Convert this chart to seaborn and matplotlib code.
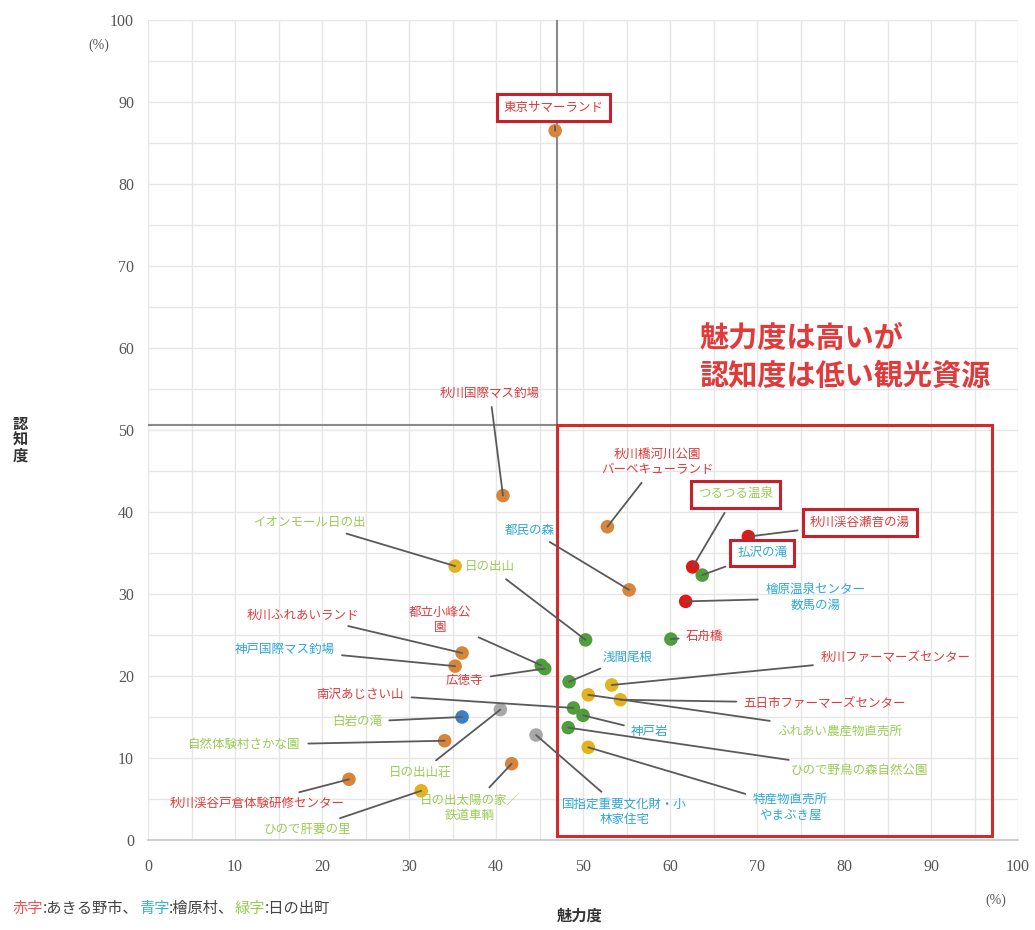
import matplotlib
matplotlib.use("Agg")
import matplotlib.pyplot as plt
import seaborn as sns
import pandas as pd
from matplotlib.patches import Rectangle
from matplotlib.ticker import MultipleLocator

sns.set_theme(style="white")
plt.rcParams['font.family'] = ['Noto Sans CJK JP', 'DejaVu Sans']

# ---------------- data ----------------
names = [
    "東京サマーランド", "秋川国際マス釣場", "イオンモール日の出", "日の出山", "都民の森",
    "秋川橋河川公園\nバーベキューランド", "つるつる温泉", "秋川渓谷瀬音の湯", "払沢の滝",
    "檜原温泉センター\n数馬の湯", "石舟橋", "浅間尾根", "秋川ファーマーズセンター",
    "五日市ファーマーズセンター", "ふれあい農産物直売所", "南沢あじさい山", "神戸岩",
    "ひので野鳥の森自然公園", "特産物直売所\nやまぶき屋", "国指定重要文化財・小\n林家住宅",
    "都立小峰公\n園", "広徳寺", "秋川ふれあいランド", "神戸国際マス釣場", "白岩の滝",
    "自然体験村さかな園", "日の出山荘", "日の出太陽の家／\n鉄道車輌",
    "秋川渓谷戸倉体験研修センター", "ひので肝要の里",
]
attract = [46.8, 40.8, 35.3, 50.3, 55.3, 52.8, 62.6, 69.0, 63.7, 61.8, 60.1, 48.4, 53.3,
           54.3, 50.6, 48.9, 50.0, 48.3, 50.6, 44.6, 45.2, 45.6, 36.1, 35.3, 36.1, 34.1,
           40.5, 41.8, 23.1, 31.4]
aware = [86.5, 42.0, 33.4, 24.4, 30.5, 38.2, 33.3, 37.0, 32.3, 29.1, 24.5, 19.3, 18.9,
         17.1, 17.7, 16.1, 15.2, 13.7, 11.3, 12.8, 21.3, 20.9, 22.8, 21.2, 15.0, 12.1,
         15.9, 9.3, 7.4, 6.0]
kind = ["leisure", "leisure", "shop", "nature", "leisure", "leisure", "onsen", "onsen",
        "nature", "onsen", "nature", "nature", "shop", "shop", "shop", "nature", "nature",
        "nature", "shop", "culture", "nature", "nature", "leisure", "leisure", "water",
        "leisure", "culture", "leisure", "leisure", "shop"]
town = ["A", "A", "H", "H", "B", "A", "H", "A", "B", "B", "A", "B", "A", "A", "H", "A", "B",
        "H", "B", "B", "A", "A", "A", "B", "H", "H", "H", "H", "A", "H"]
boxed = ["東京サマーランド", "つるつる温泉", "秋川渓谷瀬音の湯", "払沢の滝"]
mean_attract = 47.0
mean_aware = 50.6

# ---------------- layout (label positions) ----------------
label_pos = [
    (46.6, 89.3), (39.3, 54.5), (18.6, 38.7), (39.3, 33.3), (43.9, 37.8),
    (58.6, 46.1), (67.5, 42.1), (81.8, 38.7), (70.6, 35.0),
    (76.7, 29.5), (64.0, 24.8), (55.1, 22.3), (85.9, 22.3),
    (77.8, 16.7), (79.5, 13.3), (24.4, 17.8), (57.7, 13.2),
    (81.8, 8.5), (73.8, 4.0), (54.8, 3.4),
    (33.6, 26.8), (36.4, 19.5), (17.8, 27.4), (15.7, 23.2), (24.0, 14.4),
    (11.1, 11.6), (31.3, 8.2), (37.0, 3.9),
    (12.6, 4.5), (18.3, 1.3),
]

point_pal = {"leisure": "#d8843a", "onsen": "#e01818", "nature": "#4f9d3c",
             "shop": "#e3b21f", "water": "#3d7fc1", "culture": "#a8a8a8"}
text_pal = {"A": "#e03a3a", "B": "#2ea7d6", "H": "#9acb55"}

df = pd.DataFrame({"name": names, "attract": attract, "aware": aware,
                   "kind": kind, "town": town})

fig = plt.figure(figsize=(10.35, 9.3), dpi=100)
ax = fig.add_axes([0.143, 0.0968, 0.8406, 0.8817])

ax.set_xlim(0, 100)
ax.set_ylim(0, 100)
ax.xaxis.set_major_locator(MultipleLocator(10))
ax.yaxis.set_major_locator(MultipleLocator(10))
ax.xaxis.set_minor_locator(MultipleLocator(5))
ax.yaxis.set_minor_locator(MultipleLocator(5))
ax.grid(which="both", color="#e6e6e6", lw=1.0)
ax.set_axisbelow(True)
for s in ["top", "right", "left"]:
    ax.spines[s].set_visible(False)
ax.spines["bottom"].set_color("#c8c8c8")
ax.tick_params(which="both", length=0, colors="#555555", labelsize=11.5)
ax.tick_params(axis="x", pad=14)
ax.tick_params(axis="y", pad=10)
for lab in ax.get_xticklabels() + ax.get_yticklabels():
    lab.set_fontfamily("Liberation Serif")

# mean lines
ax.plot([mean_attract, mean_attract], [mean_aware, 100], color="#8a8a8a", lw=1.5, zorder=2)
ax.plot([0, mean_attract], [mean_aware, mean_aware], color="#8a8a8a", lw=1.5, zorder=2)

# highlight rectangle
ax.add_patch(Rectangle((mean_attract, 0.5), 50.0, mean_aware - 0.5, fill=False,
                       edgecolor="#d42a2a", lw=2.2, zorder=3))
ax.text(63.4, 58.9, "魅力度は高いが\n認知度は低い観光資源", color="#e23a3a", fontsize=21,
        fontweight="bold", ha="left", va="center", linespacing=1.35)

sns.scatterplot(data=df, x="attract", y="aware", hue="kind", palette=point_pal, s=95,
                edgecolor="none", legend=False, ax=ax, zorder=6)

for i, nm in enumerate(names):
    tx, ty = label_pos[i]
    kw = dict(fontsize=9, color=text_pal[town[i]], ha="center", va="center",
              linespacing=1.25, zorder=7)
    if nm in boxed:
        kw["bbox"] = dict(boxstyle="square,pad=0.55", fc="white", ec="#c8202a", lw=2.2)
    ax.annotate(nm, xy=(attract[i], aware[i]), xytext=(tx, ty),
                arrowprops=dict(arrowstyle="-", color="#5a5a5a", lw=1.3,
                                shrinkA=3, shrinkB=0), **kw)

ax.set_xlabel("")
ax.set_ylabel("")
fig.text(0.560, 0.016, "魅力度", fontsize=11, fontweight="bold", color="#333333",
         ha="center", va="center")
fig.text(0.020, 0.527, "認\n知\n度", fontsize=11, fontweight="bold", color="#333333",
         ha="center", va="center", linespacing=1.0)
fig.text(0.095, 0.951, "(%)", fontsize=10, color="#555555", ha="center", va="center",
         fontfamily="Liberation Serif")
fig.text(0.962, 0.032, "(%)", fontsize=10, color="#555555", ha="center", va="center",
         fontfamily="Liberation Serif")

# note
pieces = [("赤字", "#e85a5a"), (":あきる野市、", "#444444"), ("青字", "#3ab0dd"),
          (":檜原村、", "#444444"), ("緑字", "#9acb55"), (":日の出町", "#444444")]
prev = fig.text(0.012, 0.018, pieces[0][0], color=pieces[0][1], fontsize=11,
                ha="left", va="baseline")
for t, c in pieces[1:]:
    prev = ax.annotate(t, xy=(1, 0), xycoords=prev, color=c, fontsize=11,
                       ha="left", va="bottom", annotation_clip=False)

fig.savefig("out.png", dpi=100)
